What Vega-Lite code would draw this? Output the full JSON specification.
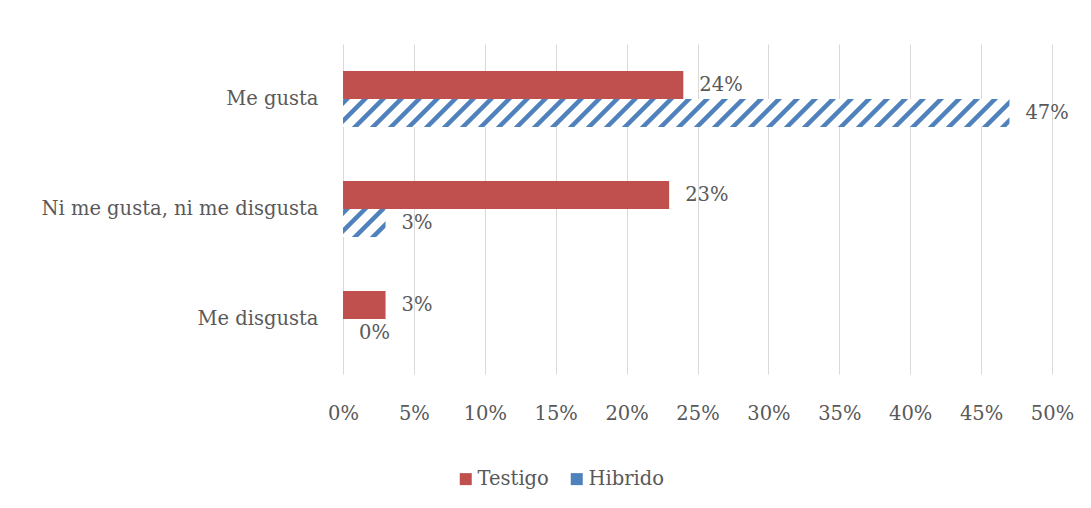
{
  "$schema": "https://vega.github.io/schema/vega-lite/v6.json",
  "width": 709,
  "height": 330,
  "autosize": "none",
  "padding": {"left": 343, "top": 44, "right": 39, "bottom": 134},
  "background": "white",
  "config": {"view": {"stroke": null}, "font": "DejaVu Serif"},
  "data": {
    "values": [
      {"cat": "Me gusta", "series": "Testigo", "value": 0.24},
      {"cat": "Me gusta", "series": "Hibrido", "value": 0.47},
      {"cat": "Ni me gusta, ni me disgusta", "series": "Testigo", "value": 0.23},
      {"cat": "Ni me gusta, ni me disgusta", "series": "Hibrido", "value": 0.03},
      {"cat": "Me disgusta", "series": "Testigo", "value": 0.03},
      {"cat": "Me disgusta", "series": "Hibrido", "value": 0.0}
    ]
  },
  "encoding": {
    "y": {
      "field": "cat", "type": "nominal", "title": null,
      "sort": ["Me gusta", "Ni me gusta, ni me disgusta", "Me disgusta"],
      "scale": {"paddingInner": 0.4909, "paddingOuter": 0.2455},
      "axis": {"domain": false, "ticks": false, "grid": false, "labelPadding": 25, "labelFontSize": 19.5, "labelColor": "#595959", "labelLimit": 400, "labelFont": "DejaVu Serif"}
    },
    "yOffset": {
      "field": "series", "type": "nominal", "sort": ["Testigo", "Hibrido"],
      "scale": {"paddingInner": 0, "paddingOuter": 0}
    },
    "x": {
      "field": "value", "type": "quantitative", "title": null,
      "scale": {"domain": [0, 0.5], "nice": false},
      "axis": {"format": ".0%", "values": [0, 0.05, 0.1, 0.15, 0.2, 0.25, 0.3, 0.35, 0.4, 0.45, 0.5], "grid": true, "gridColor": "#D9D9D9", "gridWidth": 1, "domain": false, "ticks": false, "labelPadding": 30, "labelFlush": false, "labelFontSize": 19.5, "labelColor": "#595959", "labelFont": "DejaVu Serif"}
    }
  },
  "layer": [
    {
      "mark": {"type": "bar"},
      "encoding": {
        "fill": {
          "field": "series", "type": "nominal",
          "scale": {"domain": ["Testigo", "Hibrido"], "range": ["#C0504D", "#4F81BD"]},
          "condition": [
            {"test": "datum.series === 'Hibrido' && datum.cat === 'Me gusta'",
             "value": {"gradient": "linear", "x1": 0, "y1": 0, "x2": 1.0784, "y2": 0.04531, "stops": [
              {"offset": 0, "color": "#FFFFFF"}, {"offset": 0.002, "color": "#4F81BD"}, {"offset": 0.009, "color": "#4F81BD"}, {"offset": 0.011, "color": "#FFFFFF"},
              {"offset": 0.025, "color": "#FFFFFF"}, {"offset": 0.027, "color": "#4F81BD"}, {"offset": 0.034, "color": "#4F81BD"}, {"offset": 0.036, "color": "#FFFFFF"},
              {"offset": 0.05, "color": "#FFFFFF"}, {"offset": 0.052, "color": "#4F81BD"}, {"offset": 0.059, "color": "#4F81BD"}, {"offset": 0.061, "color": "#FFFFFF"},
              {"offset": 0.075, "color": "#FFFFFF"}, {"offset": 0.077, "color": "#4F81BD"}, {"offset": 0.084, "color": "#4F81BD"}, {"offset": 0.086, "color": "#FFFFFF"},
              {"offset": 0.1, "color": "#FFFFFF"}, {"offset": 0.102, "color": "#4F81BD"}, {"offset": 0.109, "color": "#4F81BD"}, {"offset": 0.111, "color": "#FFFFFF"},
              {"offset": 0.125, "color": "#FFFFFF"}, {"offset": 0.127, "color": "#4F81BD"}, {"offset": 0.134, "color": "#4F81BD"}, {"offset": 0.136, "color": "#FFFFFF"},
              {"offset": 0.15, "color": "#FFFFFF"}, {"offset": 0.152, "color": "#4F81BD"}, {"offset": 0.159, "color": "#4F81BD"}, {"offset": 0.161, "color": "#FFFFFF"},
              {"offset": 0.175, "color": "#FFFFFF"}, {"offset": 0.177, "color": "#4F81BD"}, {"offset": 0.184, "color": "#4F81BD"}, {"offset": 0.186, "color": "#FFFFFF"},
              {"offset": 0.2, "color": "#FFFFFF"}, {"offset": 0.202, "color": "#4F81BD"}, {"offset": 0.209, "color": "#4F81BD"}, {"offset": 0.211, "color": "#FFFFFF"},
              {"offset": 0.225, "color": "#FFFFFF"}, {"offset": 0.227, "color": "#4F81BD"}, {"offset": 0.234, "color": "#4F81BD"}, {"offset": 0.236, "color": "#FFFFFF"},
              {"offset": 0.25, "color": "#FFFFFF"}, {"offset": 0.252, "color": "#4F81BD"}, {"offset": 0.259, "color": "#4F81BD"}, {"offset": 0.261, "color": "#FFFFFF"},
              {"offset": 0.275, "color": "#FFFFFF"}, {"offset": 0.277, "color": "#4F81BD"}, {"offset": 0.284, "color": "#4F81BD"}, {"offset": 0.286, "color": "#FFFFFF"},
              {"offset": 0.3, "color": "#FFFFFF"}, {"offset": 0.302, "color": "#4F81BD"}, {"offset": 0.309, "color": "#4F81BD"}, {"offset": 0.311, "color": "#FFFFFF"},
              {"offset": 0.325, "color": "#FFFFFF"}, {"offset": 0.327, "color": "#4F81BD"}, {"offset": 0.334, "color": "#4F81BD"}, {"offset": 0.336, "color": "#FFFFFF"},
              {"offset": 0.35, "color": "#FFFFFF"}, {"offset": 0.352, "color": "#4F81BD"}, {"offset": 0.359, "color": "#4F81BD"}, {"offset": 0.361, "color": "#FFFFFF"},
              {"offset": 0.375, "color": "#FFFFFF"}, {"offset": 0.377, "color": "#4F81BD"}, {"offset": 0.384, "color": "#4F81BD"}, {"offset": 0.386, "color": "#FFFFFF"},
              {"offset": 0.4, "color": "#FFFFFF"}, {"offset": 0.402, "color": "#4F81BD"}, {"offset": 0.409, "color": "#4F81BD"}, {"offset": 0.411, "color": "#FFFFFF"},
              {"offset": 0.425, "color": "#FFFFFF"}, {"offset": 0.427, "color": "#4F81BD"}, {"offset": 0.434, "color": "#4F81BD"}, {"offset": 0.436, "color": "#FFFFFF"},
              {"offset": 0.45, "color": "#FFFFFF"}, {"offset": 0.452, "color": "#4F81BD"}, {"offset": 0.459, "color": "#4F81BD"}, {"offset": 0.461, "color": "#FFFFFF"},
              {"offset": 0.475, "color": "#FFFFFF"}, {"offset": 0.477, "color": "#4F81BD"}, {"offset": 0.484, "color": "#4F81BD"}, {"offset": 0.486, "color": "#FFFFFF"},
              {"offset": 0.5, "color": "#FFFFFF"}, {"offset": 0.502, "color": "#4F81BD"}, {"offset": 0.509, "color": "#4F81BD"}, {"offset": 0.511, "color": "#FFFFFF"},
              {"offset": 0.525, "color": "#FFFFFF"}, {"offset": 0.527, "color": "#4F81BD"}, {"offset": 0.534, "color": "#4F81BD"}, {"offset": 0.536, "color": "#FFFFFF"},
              {"offset": 0.55, "color": "#FFFFFF"}, {"offset": 0.552, "color": "#4F81BD"}, {"offset": 0.559, "color": "#4F81BD"}, {"offset": 0.561, "color": "#FFFFFF"},
              {"offset": 0.575, "color": "#FFFFFF"}, {"offset": 0.577, "color": "#4F81BD"}, {"offset": 0.584, "color": "#4F81BD"}, {"offset": 0.586, "color": "#FFFFFF"},
              {"offset": 0.6, "color": "#FFFFFF"}, {"offset": 0.602, "color": "#4F81BD"}, {"offset": 0.609, "color": "#4F81BD"}, {"offset": 0.611, "color": "#FFFFFF"},
              {"offset": 0.625, "color": "#FFFFFF"}, {"offset": 0.627, "color": "#4F81BD"}, {"offset": 0.634, "color": "#4F81BD"}, {"offset": 0.636, "color": "#FFFFFF"},
              {"offset": 0.65, "color": "#FFFFFF"}, {"offset": 0.652, "color": "#4F81BD"}, {"offset": 0.659, "color": "#4F81BD"}, {"offset": 0.661, "color": "#FFFFFF"},
              {"offset": 0.675, "color": "#FFFFFF"}, {"offset": 0.677, "color": "#4F81BD"}, {"offset": 0.684, "color": "#4F81BD"}, {"offset": 0.686, "color": "#FFFFFF"},
              {"offset": 0.7, "color": "#FFFFFF"}, {"offset": 0.702, "color": "#4F81BD"}, {"offset": 0.709, "color": "#4F81BD"}, {"offset": 0.711, "color": "#FFFFFF"},
              {"offset": 0.725, "color": "#FFFFFF"}, {"offset": 0.727, "color": "#4F81BD"}, {"offset": 0.734, "color": "#4F81BD"}, {"offset": 0.736, "color": "#FFFFFF"},
              {"offset": 0.75, "color": "#FFFFFF"}, {"offset": 0.752, "color": "#4F81BD"}, {"offset": 0.759, "color": "#4F81BD"}, {"offset": 0.761, "color": "#FFFFFF"},
              {"offset": 0.775, "color": "#FFFFFF"}, {"offset": 0.777, "color": "#4F81BD"}, {"offset": 0.784, "color": "#4F81BD"}, {"offset": 0.786, "color": "#FFFFFF"},
              {"offset": 0.8, "color": "#FFFFFF"}, {"offset": 0.802, "color": "#4F81BD"}, {"offset": 0.809, "color": "#4F81BD"}, {"offset": 0.811, "color": "#FFFFFF"},
              {"offset": 0.825, "color": "#FFFFFF"}, {"offset": 0.827, "color": "#4F81BD"}, {"offset": 0.834, "color": "#4F81BD"}, {"offset": 0.836, "color": "#FFFFFF"},
              {"offset": 0.85, "color": "#FFFFFF"}, {"offset": 0.852, "color": "#4F81BD"}, {"offset": 0.859, "color": "#4F81BD"}, {"offset": 0.861, "color": "#FFFFFF"},
              {"offset": 0.875, "color": "#FFFFFF"}, {"offset": 0.877, "color": "#4F81BD"}, {"offset": 0.884, "color": "#4F81BD"}, {"offset": 0.886, "color": "#FFFFFF"},
              {"offset": 0.9, "color": "#FFFFFF"}, {"offset": 0.902, "color": "#4F81BD"}, {"offset": 0.909, "color": "#4F81BD"}, {"offset": 0.911, "color": "#FFFFFF"},
              {"offset": 0.925, "color": "#FFFFFF"}, {"offset": 0.927, "color": "#4F81BD"}, {"offset": 0.934, "color": "#4F81BD"}, {"offset": 0.936, "color": "#FFFFFF"},
              {"offset": 0.95, "color": "#FFFFFF"}, {"offset": 0.952, "color": "#4F81BD"}, {"offset": 0.959, "color": "#4F81BD"}, {"offset": 0.961, "color": "#FFFFFF"},
              {"offset": 0.975, "color": "#FFFFFF"}, {"offset": 0.977, "color": "#4F81BD"}, {"offset": 0.984, "color": "#4F81BD"}, {"offset": 0.986, "color": "#FFFFFF"},
              {"offset": 1, "color": "#FFFFFF"}
             ]}},
            {"test": "datum.series === 'Hibrido' && datum.cat === 'Ni me gusta, ni me disgusta'",
             "value": {"gradient": "linear", "x1": 0, "y1": 0, "x2": 1.1809, "y2": 0.7773, "stops": [
              {"offset": 0, "color": "#FFFFFF"}, {"offset": 0.02, "color": "#4F81BD"}, {"offset": 0.09, "color": "#4F81BD"}, {"offset": 0.11, "color": "#FFFFFF"},
              {"offset": 0.25, "color": "#FFFFFF"}, {"offset": 0.27, "color": "#4F81BD"}, {"offset": 0.34, "color": "#4F81BD"}, {"offset": 0.36, "color": "#FFFFFF"},
              {"offset": 0.5, "color": "#FFFFFF"}, {"offset": 0.52, "color": "#4F81BD"}, {"offset": 0.59, "color": "#4F81BD"}, {"offset": 0.61, "color": "#FFFFFF"},
              {"offset": 0.75, "color": "#FFFFFF"}, {"offset": 0.77, "color": "#4F81BD"}, {"offset": 0.84, "color": "#4F81BD"}, {"offset": 0.86, "color": "#FFFFFF"},
              {"offset": 1, "color": "#FFFFFF"}
             ]}}
          ],
          "legend": {
            "title": null, "orient": "none", "direction": "horizontal",
            "legendX": 113, "legendY": 425,
            "symbolType": "square", "symbolSize": 144, "symbolStrokeWidth": 0,
            "labelFontSize": 19.5, "labelColor": "#595959", "labelFont": "DejaVu Serif",
            "columnPadding": 18, "labelOffset": 2, "padding": 0
          }
        }
      }
    },
    {
      "mark": {"type": "text", "align": "left", "baseline": "middle", "dx": 16, "fontSize": 19.5, "color": "#595959", "font": "DejaVu Serif"},
      "encoding": {
        "text": {"field": "value", "type": "quantitative", "format": ".0%"}
      }
    }
  ]
}
